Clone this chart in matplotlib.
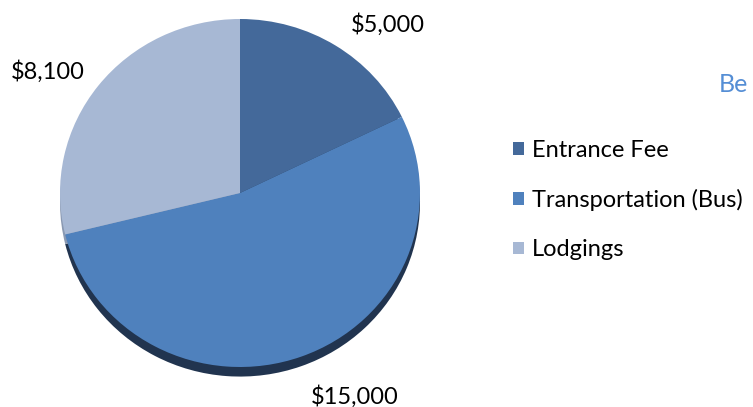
import matplotlib.pyplot as plt
from matplotlib.patches import Patch

# Chart data
categories = ['Entrance Fee', 'Transportation (Bus)', 'Lodgings']
costs = [5000, 15000, 8100]
value_labels = ['$5,000', '$15,000', '$8,100']

colors = ['#44699A', '#4F81BD', '#A7B8D4']
rim_colors = ['#22344F', '#21344F', '#8A99B2']
# where each value label sits (axes data units, pie radius = 1)
label_pos = [(0.82, 0.97), (0.64, -1.17), (-1.07, 0.70)]

plt.rcParams['font.family'] = ['Lato', 'DejaVu Sans']

W, H = 753, 407
fig = plt.figure(figsize=(W / 100, H / 100), dpi=100)

# pie centre at (240, 193) px, radii 180 x 174 px
rx, ry = 180, 174
cx, cy = 240, H - 193
xlim = (-1.3, 1.3)
ylim = (-1.15, 1.15)
ax = fig.add_axes([(cx + xlim[0] * rx) / W, (cy + ylim[0] * ry) / H,
                   (xlim[1] - xlim[0]) * rx / W, (ylim[1] - ylim[0]) * ry / H])

# dark rim underneath to fake the 3D edge
ax.pie(costs, colors=rim_colors, startangle=90, counterclock=False,
       center=(0, -0.055), wedgeprops=dict(linewidth=0))
wedges, _ = ax.pie(costs, colors=colors, startangle=90, counterclock=False,
                   wedgeprops=dict(linewidth=0))
ax.set_aspect('auto')
ax.set_xlim(*xlim)
ax.set_ylim(*ylim)
ax.axis('off')

for txt, (x, y) in zip(value_labels, label_pos):
    ax.text(x, y, txt, ha='center', va='center', fontsize=17, color='#000000')

handles = [Patch(facecolor=c, edgecolor='none') for c in colors]
fig.legend(handles, categories, loc='center left',
           bbox_to_anchor=(513 / W, (H - 200) / H), bbox_transform=fig.transFigure,
           frameon=False, fontsize=17, borderpad=0, borderaxespad=0,
           handlelength=0.45, handleheight=0.45, handletextpad=0.35,
           labelspacing=1.2)

fig.text(748 / W, (H - 84) / H, 'Be', color='#558ED5', fontsize=18,
         ha='right', va='center')

fig.savefig('out.png', dpi=100)
